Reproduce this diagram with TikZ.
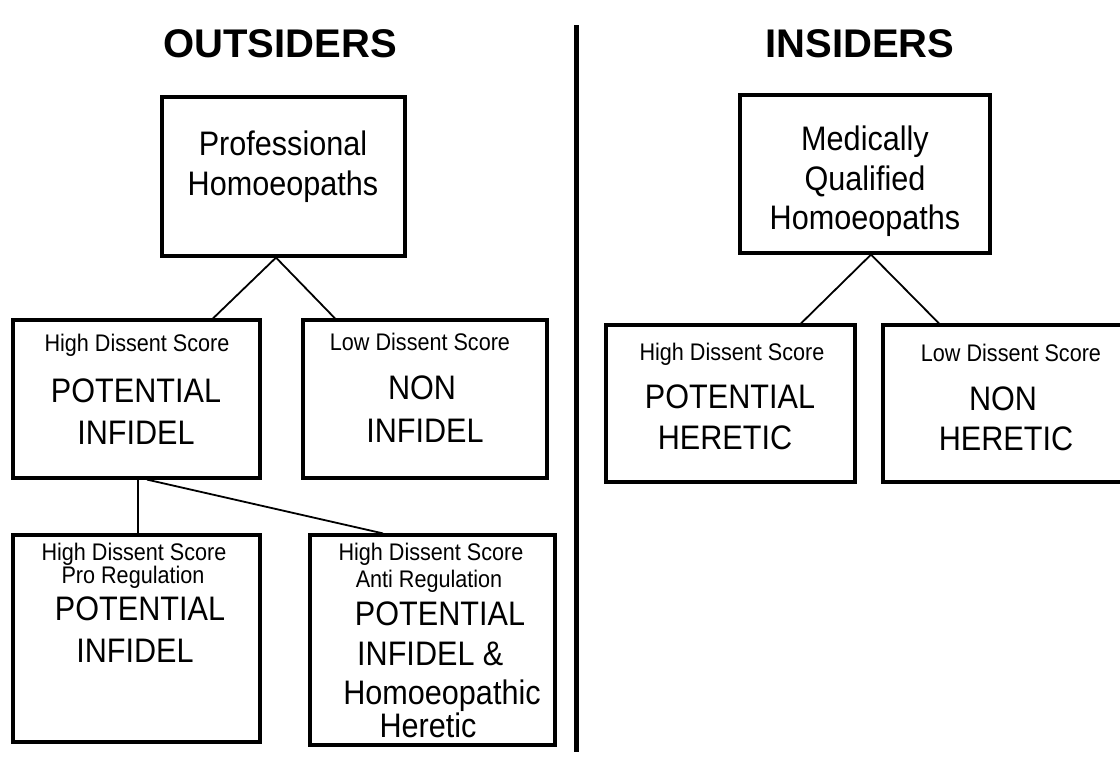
\documentclass[tikz,border=0pt]{standalone}
\usepackage{fontspec}
\setmainfont{Liberation Sans}
\newfontfamily\narrowsans{Liberation Sans}[FakeStretch=0.9]
\begin{document}
\begin{tikzpicture}[x=1pt,y=-1pt,
  box/.style={draw, line width=3.2pt, inner sep=0pt, rectangle},
  conn/.style={line width=1.8pt},
  big/.style={anchor=base, inner sep=0pt, font=\narrowsans\fontsize{34}{34}\selectfont},
  small/.style={anchor=base, inner sep=0pt, font=\narrowsans\fontsize{24}{24}\selectfont},
  ttl/.style={anchor=base, inner sep=0pt, font=\fontsize{40}{40}\selectfont\bfseries},
  divider/.style={line width=5pt}]
\fill[white] (0,0) rectangle (1120,758);
\useasboundingbox (0,0) rectangle (1120,758);

% titles
\node[ttl] (tout) at (280,57) {OUTSIDERS};
\node[ttl] (tins) at (860,57) {INSIDERS};

% divider
\draw[divider] (576,25) -- (576,752);

% boxes
\node[box, minimum width=243pt, minimum height=159pt] (prof) at (283.5,176.5) {};
\node[box, minimum width=247pt, minimum height=158pt] (hiL) at (136.5,399) {};
\node[box, minimum width=244pt, minimum height=158pt] (loL) at (425,399) {};
\node[box, minimum width=247pt, minimum height=207pt] (bl) at (136.5,638.5) {};
\node[box, minimum width=245pt, minimum height=210pt] (br) at (432.5,640) {};
\node[box, minimum width=250pt, minimum height=158pt] (med) at (865,174) {};
\node[box, minimum width=249pt, minimum height=157pt] (hiR) at (730.5,403.5) {};
\node[box, minimum width=250pt, minimum height=157pt] (loR) at (1008,403.5) {};

% connectors
\draw[conn] ([xshift=-7.5pt]prof.south) -- ([xshift=76.5pt]hiL.north);
\draw[conn] ([xshift=-7.5pt]prof.south) -- ([xshift=-90pt]loL.north);
\draw[conn] ([xshift=1.5pt]hiL.south) -- ([xshift=1.5pt]bl.north);
\draw[conn] ([xshift=10.5pt]hiL.south) -- ([xshift=-49.5pt]br.north);
\draw[conn] ([xshift=6pt]med.south) -- ([xshift=70.5pt]hiR.north);
\draw[conn] ([xshift=6pt]med.south) -- ([xshift=-69pt]loR.north);

% texts: professional
\node[big] (p1) at (283,155) {Professional};
\node[big] (p2) at (283,195) {Homoeopaths};
% medically
\node[big] (m1) at (865,150) {Medically};
\node[big] (m2) at (865,190) {Qualified};
\node[big] (m3) at (865,229) {Homoeopaths};

% high left
\node[small] (hl1) at (137,351) {High Dissent Score};
\node[big] (hl2) at (136,402) {POTENTIAL};
\node[big] (hl3) at (136,444) {INFIDEL};
% low left
\node[small] (ll1) at (420,350) {Low Dissent Score};
\node[big] (ll2) at (422,399) {NON};
\node[big] (ll3) at (425,442) {INFIDEL};

% high right
\node[small] (hr1) at (732,360) {High Dissent Score};
\node[big] (hr2) at (730,408) {POTENTIAL};
\node[big] (hr3) at (725,449) {HERETIC};
% low right
\node[small] (lr1) at (1011,361) {Low Dissent Score};
\node[big] (lr2) at (1003,410) {NON};
\node[big] (lr3) at (1006,450) {HERETIC};

% bottom left
\node[small] (bl1) at (134,560) {High Dissent Score};
\node[small] (bl2) at (133,583) {Pro Regulation};
\node[big] (bl3) at (140,620) {POTENTIAL};
\node[big] (bl4) at (135,662) {INFIDEL};

% bottom right
\node[small] (br1) at (431,560) {High Dissent Score};
\node[small] (br2) at (429,587) {Anti Regulation};
\node[big] (br3) at (440,625) {POTENTIAL};
\node[big, anchor=base west] (br4) at (357,665) {INFIDEL \&};
\node[big] (br5) at (442,704) {Homoeopathic};
\node[big] (br6) at (428,737) {Heretic};
\end{tikzpicture}
\end{document}
